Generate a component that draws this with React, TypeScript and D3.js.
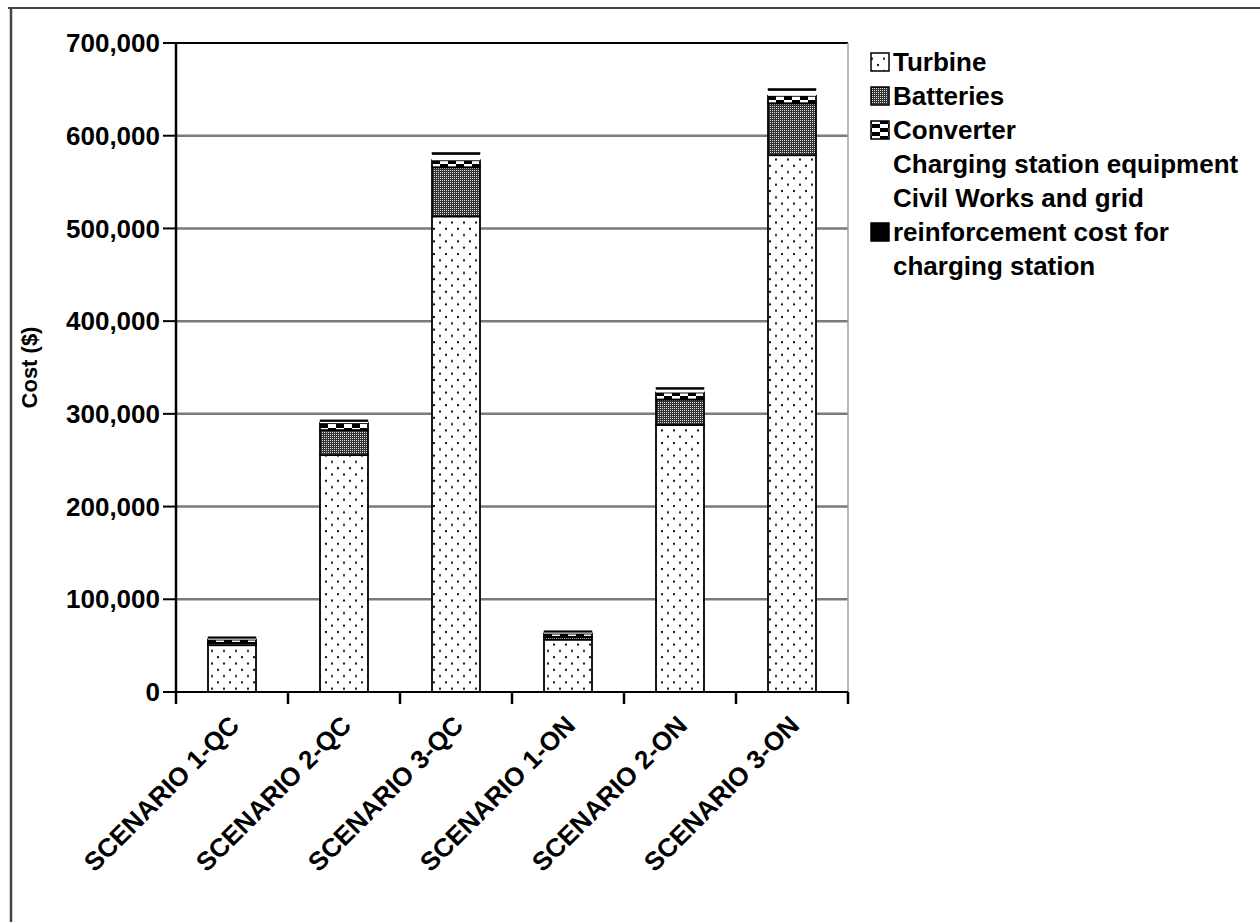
import React from 'react';
import * as d3 from 'd3';

// Cost breakdown per scenario (US$)
const categories = [
  'SCENARIO 1-QC',
  'SCENARIO 2-QC',
  'SCENARIO 3-QC',
  'SCENARIO 1-ON',
  'SCENARIO 2-ON',
  'SCENARIO 3-ON',
];
const turbine = [50500, 255500, 513000, 56500, 288000, 579000];
const batteries = [2500, 27000, 53000, 3000, 27500, 56000];
const converter = [3500, 7500, 7500, 3500, 7500, 8000];
const chargingEquipment = [1500, 1500, 6000, 1500, 3500, 5500];
const civilWorks = [1500, 2000, 2500, 1500, 2000, 2500];
const yTicks = [0, 100000, 200000, 300000, 400000, 500000, 600000, 700000];

const seriesKeys = ['turbine', 'batteries', 'converter', 'charging', 'civil'];
const seriesFill: Record<string, string> = {
  turbine: 'url(#pTurbine)',
  batteries: 'url(#pBatteries)',
  converter: 'url(#pConverter)',
  charging: '#ffffff',
  civil: '#000000',
};
const seriesStroke: Record<string, string> = {
  turbine: '#000',
  batteries: '#000',
  converter: '#000',
  charging: 'none',
  civil: '#000',
};

const legendRows = [
  { key: 'turbine', text: 'Turbine', swatch: true },
  { key: 'batteries', text: 'Batteries', swatch: true },
  { key: 'converter', text: 'Converter', swatch: true },
  { key: 'charging', text: 'Charging station equipment', swatch: false },
  { key: 'civil', text: 'Civil Works and grid', swatch: false },
  { key: 'civil', text: 'reinforcement cost for', swatch: true },
  { key: 'civil', text: 'charging station', swatch: false },
];

const W = 1260;
const H = 922;
const plot = { left: 176, right: 848, top: 43, bottom: 692 };
const FONT = '"Liberation Sans", Arial, sans-serif';

export default function App() {
  const x = d3.scaleBand<string>().domain(categories).range([plot.left, plot.right]).padding(0);
  const y = d3.scaleLinear().domain([0, 700000]).range([plot.bottom, plot.top]);
  const barW = 48;

  const rows = categories.map((c, i) => ({
    cat: c,
    turbine: turbine[i],
    batteries: batteries[i],
    converter: converter[i],
    charging: chargingEquipment[i],
    civil: civilWorks[i],
  }));
  const stacked = d3.stack<any>().keys(seriesKeys)(rows);
  const fmt = d3.format(',');

  return (
    <svg
      width={W}
      height={H}
      style={{ position: 'absolute', left: 0, top: 0, background: '#fff' }}
      fontFamily={FONT}
    >
      <defs>
        <pattern id="pTurbine" width={12} height={12.6} patternUnits="userSpaceOnUse">
          <rect width={12} height={12.6} fill="#fff" />
          <rect x={1} y={1} width={2} height={2} fill="#111" />
          <rect x={7} y={7.3} width={2} height={2} fill="#111" />
        </pattern>
        <pattern id="pBatteries" width={2} height={2} patternUnits="userSpaceOnUse">
          <rect width={2} height={2} fill="#333" />
          <rect x={0} y={0} width={1} height={1} fill="#dcdcdc" />
        </pattern>
        <pattern id="pConverter" width={16} height={8} patternUnits="userSpaceOnUse">
          <rect width={16} height={8} fill="#fff" />
          <rect x={0} y={0} width={8} height={4} fill="#000" />
          <rect x={8} y={4} width={8} height={4} fill="#000" />
        </pattern>
      </defs>

      {/* outer frame */}
      <line x1={8} x2={W} y1={8} y2={8} stroke="#444" strokeWidth={2} />
      <line x1={11} x2={11} y1={8} y2={H} stroke="#444" strokeWidth={2.5} />

      {/* gridlines and y ticks */}
      {yTicks.map((t) => (
        <g key={t}>
          {t > 0 && t < 700000 && (
            <line
              x1={plot.left}
              x2={plot.right}
              y1={y(t)}
              y2={y(t)}
              stroke="#7a7a7a"
              strokeWidth={2.5}
            />
          )}
          <line x1={163} x2={plot.left} y1={y(t)} y2={y(t)} stroke="#000" strokeWidth={2} />
          <text
            x={160}
            y={y(t)}
            dy="0.35em"
            textAnchor="end"
            fontSize={26}
            fontWeight="bold"
            fill="#000"
          >
            {fmt(t)}
          </text>
        </g>
      ))}
      <line x1={plot.left} x2={plot.right} y1={plot.top} y2={plot.top} stroke="#000" strokeWidth={2} />
      <line x1={plot.right} x2={plot.right} y1={plot.top} y2={plot.bottom} stroke="#a0a0a0" strokeWidth={1.5} />

      {/* stacked bars */}
      {stacked.map((s) => (
        <g key={s.key}>
          {s.map((d, i) => {
            const cx = (x(categories[i]) as number) + x.bandwidth() / 2;
            const y0 = y(d[0]);
            const y1 = y(d[1]);
            return (
              <rect
                key={i}
                x={Math.round(cx - barW / 2)}
                y={y1}
                width={barW}
                height={Math.max(0, y0 - y1)}
                fill={seriesFill[s.key]}
                stroke={seriesStroke[s.key]}
                strokeWidth={s.key === 'civil' ? 0.5 : 1.8}
              />
            );
          })}
        </g>
      ))}

      {/* axes */}
      <line x1={plot.left} x2={plot.left} y1={plot.top} y2={plot.bottom} stroke="#000" strokeWidth={2.5} />
      <line x1={163} x2={plot.right} y1={plot.bottom} y2={plot.bottom} stroke="#000" strokeWidth={2} />
      {[...categories.map((c) => x(c) as number), plot.right].map((px, i) => (
        <line key={i} x1={px} x2={px} y1={plot.bottom} y2={plot.bottom + 12} stroke="#000" strokeWidth={2.5} />
      ))}
      {categories.map((c) => {
        const cx = (x(c) as number) + x.bandwidth() / 2;
        return (
          <text
            key={c}
            transform={`translate(${cx - 4},${plot.bottom + 22}) rotate(-45)`}
            textAnchor="end"
            dy="0.7em"
            fontSize={26}
            fontWeight="bold"
            fill="#000"
          >
            {c}
          </text>
        );
      })}

      {/* y axis title */}
      <text
        transform={`translate(37,${(plot.top + plot.bottom) / 2}) rotate(-90)`}
        textAnchor="middle"
        fontSize={22}
        fontWeight="bold"
        fill="#000"
      >
        Cost ($)
      </text>

      {/* legend */}
      {legendRows.map((r, i) => {
        const cy = 62 + i * 34;
        return (
          <g key={i}>
            {r.swatch && (
              <rect
                x={871}
                y={cy - 9}
                width={18}
                height={18}
                fill={seriesFill[r.key]}
                stroke="#000"
                strokeWidth={1.5}
              />
            )}
            <text x={893} y={cy} dy="0.35em" fontSize={26} fontWeight="bold" fill="#000">
              {r.text}
            </text>
          </g>
        );
      })}
    </svg>
  );
}
